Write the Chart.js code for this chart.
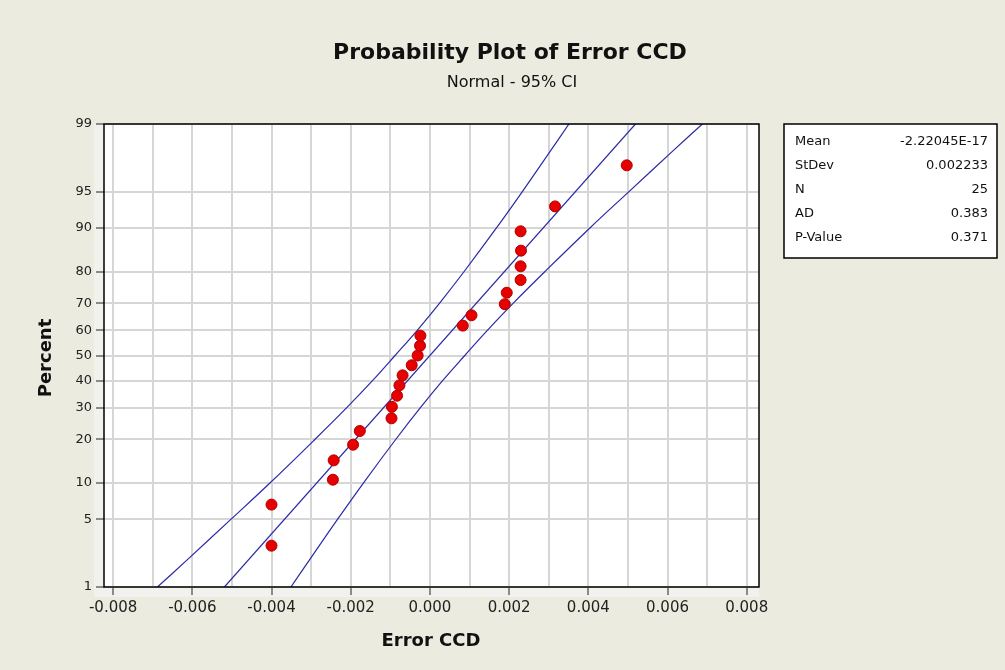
<!DOCTYPE html>
<html lang="en">
<head>
  <meta charset="UTF-8">
  <title>Probability Plot of Error CCD</title>
  <script src="https://cdn.jsdelivr.net/npm/chart.js@4.4.1/dist/chart.umd.min.js"></script>
  <style>
    html, body { margin: 0; padding: 0; background: #ecebdf; }
    #wrap { width: 1005px; height: 670px; }
  </style>
</head>
<body>
  <div id="wrap"><canvas id="grafico" width="1005" height="670"></canvas></div>
  <script>
    // residuals, sorted, with their plotting percent
    const errorX = [-0.0040, -0.0040, -0.00245, -0.00243, -0.00194, -0.00177, -0.00097, -0.00096,
      -0.00083, -0.00077, -0.00069, -0.00046, -0.00031, -0.00025, -0.00024, 0.00083, 0.00105,
      0.00189, 0.00194, 0.00229, 0.00229, 0.00230, 0.00229, 0.00316, 0.00497];
    const errorPct = [2.8, 6.7, 10.6, 14.6, 18.5, 22.4, 26.4, 30.3, 34.3, 38.2, 42.1, 46.1, 50.0,
      53.9, 57.9, 61.8, 65.7, 69.7, 73.6, 77.6, 81.5, 85.4, 89.4, 93.3, 97.2];

    // fitted line and 95% CI bands, read at these percent levels
    const bandPct = [1, 2, 5, 10, 20, 30, 40, 50, 60, 70, 80, 90, 95, 98, 99];
    const bandLow = [-0.00688, -0.00613, -0.00502, -0.00404, -0.00290, -0.00210, -0.00145, -0.00088,
      -0.00032, 0.00024, 0.00086, 0.00168, 0.00233, 0.00304, 0.00351];
    const bandHigh = [-0.00351, -0.00304, -0.00233, -0.00168, -0.00086, -0.00024, 0.00032, 0.00088,
      0.00145, 0.00210, 0.00290, 0.00404, 0.00502, 0.00613, 0.00688];
    const fitPct = [1, 99];
    const fitX = [-0.00519, 0.00519];

    const percentTicks = [1, 5, 10, 20, 30, 40, 50, 60, 70, 80, 90, 95, 99];
    const xGrid = [-0.008, -0.007, -0.006, -0.005, -0.004, -0.003, -0.002, -0.001, 0,
      0.001, 0.002, 0.003, 0.004, 0.005, 0.006, 0.007, 0.008];

    const statLabels = ["Mean", "StDev", "N", "AD", "P-Value"];
    const statValues = ["-2.22045E-17", "0.002233", "25", "0.383", "0.371"];

    const FONT = "'DejaVu Sans', Verdana, sans-serif";
    const LINE = '#2a2aa6';

    // inverse normal cdf (Acklam)
    function probit(p) {
      const a = [-39.69683028665376, 220.9460984245205, -275.9285104469687, 138.3577518672690, -30.66479806614716, 2.506628277459239];
      const b = [-54.47609879822406, 161.5858368580409, -155.6989798598866, 66.80131188771972, -13.28068155288572];
      const c = [-0.007784894002430293, -0.3223964580411365, -2.400758277161838, -2.549732539343734, 4.374664141464968, 2.938163982698783];
      const d = [0.007784695709041462, 0.3224671290700398, 2.445134137142996, 3.754408661907416];
      const pl = 0.02425;
      let q, r;
      if (p < pl) {
        q = Math.sqrt(-2 * Math.log(p));
        return (((((c[0]*q+c[1])*q+c[2])*q+c[3])*q+c[4])*q+c[5]) / ((((d[0]*q+d[1])*q+d[2])*q+d[3])*q+1);
      }
      if (p > 1 - pl) {
        q = Math.sqrt(-2 * Math.log(1 - p));
        return -(((((c[0]*q+c[1])*q+c[2])*q+c[3])*q+c[4])*q+c[5]) / ((((d[0]*q+d[1])*q+d[2])*q+d[3])*q+1);
      }
      q = p - 0.5; r = q * q;
      return (((((a[0]*r+a[1])*r+a[2])*r+a[3])*r+a[4])*r+a[5])*q / (((((b[0]*r+b[1])*r+b[2])*r+b[3])*r+b[4])*r+1);
    }
    function normCdf(z) {
      const t = 1 / (1 + 0.2316419 * Math.abs(z));
      const y = 0.3989423 * Math.exp(-z * z / 2) * t * (0.3193815 + t * (-0.3565638 + t * (1.781478 + t * (-1.821256 + t * 1.330274))));
      return z > 0 ? 1 - y : y;
    }

    // percent axis on normal probability paper
    class ProbitScale extends Chart.LinearScale {
      determineDataLimits() {
        this.min = this.options.min;
        this.max = this.options.max;
      }
      buildTicks() {
        return percentTicks.map(v => ({ value: v }));
      }
      configure() {
        super.configure();
        this._zMin = probit(this.min / 100);
        this._zMax = probit(this.max / 100);
      }
      getPixelForValue(v) {
        return this.getPixelForDecimal((probit(v / 100) - this._zMin) / (this._zMax - this._zMin));
      }
      getValueForPixel(px) {
        const dec = this.getDecimalForPixel(px);
        return 100 * normCdf(this._zMin + dec * (this._zMax - this._zMin));
      }
    }
    ProbitScale.id = 'probit';
    Chart.register(ProbitScale);

    const pts = (xs, ys) => xs.map((x, i) => ({ x: x, y: ys[i] }));

    const decoraciones = {
      id: 'decoraciones',
      beforeDraw(chart) {
        const { ctx, chartArea: a } = chart;
        ctx.save();
        ctx.fillStyle = '#ecebdf';
        ctx.fillRect(0, 0, chart.width, chart.height);
        ctx.fillStyle = '#f1f1ee';
        ctx.fillRect(a.left - 10, a.top, a.right - a.left + 10, a.bottom - a.top + 10);
        ctx.fillStyle = '#ffffff';
        ctx.fillRect(a.left, a.top, a.right - a.left, a.bottom - a.top);
        ctx.restore();
      },
      afterDraw(chart) {
        const { ctx, chartArea: a } = chart;
        ctx.save();
        ctx.strokeStyle = '#000';
        ctx.lineWidth = 1.5;
        ctx.strokeRect(a.left, a.top, a.right - a.left, a.bottom - a.top);

        ctx.fillStyle = '#111';
        ctx.textAlign = 'center';
        ctx.textBaseline = 'middle';
        ctx.font = 'bold 22px ' + FONT;
        ctx.fillText('Probability Plot of Error CCD', 510, 53);
        ctx.font = '16px ' + FONT;
        ctx.fillText('Normal - 95% CI', 512, 83);

        ctx.font = 'bold 18px ' + FONT;
        ctx.fillText('Error CCD', 431, 641);
        ctx.save();
        ctx.translate(46, 358);
        ctx.rotate(-Math.PI / 2);
        ctx.fillText('Percent', 0, 0);
        ctx.restore();

        // stats box
        const bx = 784, by = 124, bw = 213, bh = 134;
        ctx.fillStyle = '#fff';
        ctx.fillRect(bx, by, bw, bh);
        ctx.strokeStyle = '#000';
        ctx.lineWidth = 1.5;
        ctx.strokeRect(bx, by, bw, bh);
        ctx.fillStyle = '#111';
        ctx.font = '13px ' + FONT;
        statLabels.forEach((lab, i) => {
          const y = by + 18 + i * 24;
          ctx.textAlign = 'left';
          ctx.fillText(lab, bx + 11, y);
          ctx.textAlign = 'right';
          ctx.fillText(statValues[i], bx + bw - 9, y);
        });
        ctx.restore();
      }
    };

    new Chart(document.getElementById('grafico'), {
      type: 'scatter',
      data: {
        datasets: [
          { data: pts(errorX, errorPct), order: 0, pointRadius: 5.5, pointHoverRadius: 5.5,
            backgroundColor: '#e60000', borderColor: '#b00000', borderWidth: 1 },
          { data: pts(fitX, fitPct), order: 1, showLine: true, pointRadius: 0,
            borderColor: LINE, borderWidth: 1.2 },
          { data: pts(bandLow, bandPct), order: 1, showLine: true, pointRadius: 0, tension: 0.4,
            borderColor: LINE, borderWidth: 1.2 },
          { data: pts(bandHigh, bandPct), order: 1, showLine: true, pointRadius: 0, tension: 0.4,
            borderColor: LINE, borderWidth: 1.2 }
        ]
      },
      options: {
        responsive: false,
        animation: false,
        layout: { padding: { left: 0, top: 124, right: 246, bottom: 0 } },
        plugins: { legend: { display: false }, tooltip: { enabled: false } },
        scales: {
          x: {
            type: 'linear',
            min: -0.00823,
            max: 0.00831,
            afterFit: s => { s.height = 83; },
            afterBuildTicks: s => { s.ticks = xGrid.map(v => ({ value: v })); },
            border: { display: false },
            grid: {
              color: '#d6d6d6', lineWidth: 2, tickLength: 8,
              tickColor: c => (c.index % 2 === 0 ? '#222' : 'rgba(0,0,0,0)'), tickWidth: 1
            },
            ticks: {
              autoSkip: false, maxRotation: 0, padding: 4, color: '#222',
              font: { family: FONT, size: 15 },
              callback: (v, i) => (i % 2 === 0 ? v.toFixed(3) : '')
            }
          },
          y: {
            type: 'probit',
            min: 1,
            max: 99,
            afterFit: s => { s.width = 104; },
            border: { display: false },
            grid: { color: '#d6d6d6', lineWidth: 2, tickLength: 8, tickColor: '#222', tickWidth: 1 },
            ticks: {
              autoSkip: false, padding: 4, color: '#222',
              font: { family: FONT, size: 13 },
              callback: v => String(v)
            }
          }
        }
      },
      plugins: [decoraciones]
    });
  </script>
</body>
</html>
